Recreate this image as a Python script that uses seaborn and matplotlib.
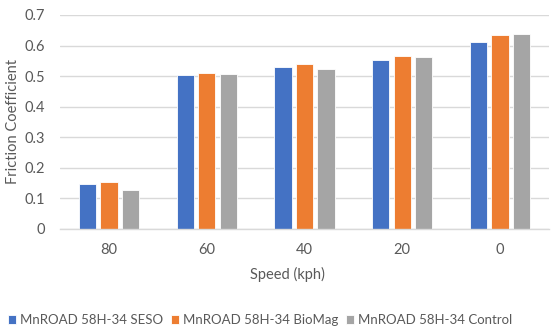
import matplotlib
matplotlib.use("Agg")
import matplotlib.pyplot as plt
import seaborn as sns
import pandas as pd

speeds = ["80", "60", "40", "20", "0"]
seso = [0.147, 0.504, 0.530, 0.552, 0.612]
biomag = [0.153, 0.509, 0.539, 0.566, 0.635]
control = [0.128, 0.507, 0.522, 0.563, 0.637]
series_names = ["MnROAD 58H-34 SESO", "MnROAD 58H-34 BioMag", "MnROAD 58H-34 Control"]
colors = ["#4472C4", "#ED7D31", "#A5A5A5"]
y_ticks = [0, 0.1, 0.2, 0.3, 0.4, 0.5, 0.6, 0.7]

rows = []
for name, vals in zip(series_names, [seso, biomag, control]):
    for s, v in zip(speeds, vals):
        rows.append({"Speed": s, "Friction": v, "Mix": name})
df = pd.DataFrame(rows)

sns.set_theme(style="white")
plt.rcParams["font.family"] = ["Lato", "DejaVu Sans"]
text_color = "#595959"

fig = plt.figure(figsize=(5.53, 3.32), dpi=100)
ax = fig.add_axes([60 / 553, 1 - 229 / 332, 489 / 553, 214 / 332])

sns.barplot(data=df, x="Speed", y="Friction", hue="Mix", order=speeds,
            hue_order=series_names, palette=colors, width=0.66, gap=0.2,
            saturation=1, edgecolor="white", linewidth=0.6, ax=ax, legend=True)

ax.set_ylim(0, 0.7)
ax.set_yticks(y_ticks)
ax.set_yticklabels(["0"] + [f"{t:.1f}" for t in y_ticks[1:]])
ax.set_xlim(-0.5, len(speeds) - 0.5)
ax.yaxis.grid(True, color="#D9D9D9", linewidth=1)
ax.set_axisbelow(True)
for side in ["top", "right", "left"]:
    ax.spines[side].set_visible(False)
ax.spines["bottom"].set_color("#D9D9D9")
ax.spines["bottom"].set_linewidth(1)
ax.tick_params(axis="both", length=0, labelsize=10.5, colors=text_color)
ax.tick_params(axis="y", pad=11)
ax.tick_params(axis="x", pad=10)

ax.set_xlabel("")
ax.set_ylabel("")
fig.text(287 / 553, 1 - 274 / 332, "Speed (kph)", ha="center", va="center",
         fontsize=10.5, color=text_color)
fig.text(13 / 553, 1 - 122 / 332, "Friction Coefficient", ha="center", va="center",
         rotation=90, fontsize=10.5, color=text_color)

handles, labels = ax.get_legend_handles_labels()
ax.get_legend().remove()
leg = fig.legend(handles, labels, loc="center", bbox_to_anchor=(260 / 553, 1 - 320 / 332),
                 ncol=3, frameon=False, fontsize=9.5, handlelength=0.6, handleheight=0.6,
                 handletextpad=0.3, columnspacing=0.6, labelcolor=text_color)

fig.savefig("out.png", dpi=100)
